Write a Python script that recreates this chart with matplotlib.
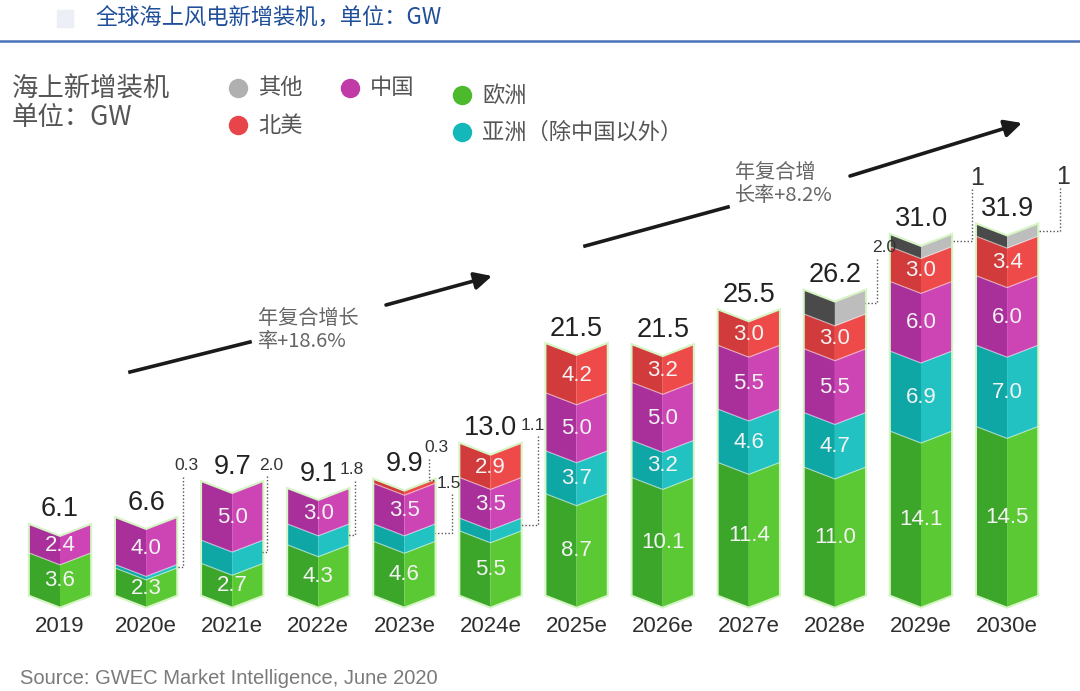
import matplotlib
matplotlib.use('Agg')
import matplotlib.pyplot as plt
import numpy as np

# data (GW)
years = ['2019', '2020e', '2021e', '2022e', '2023e', '2024e',
         '2025e', '2026e', '2027e', '2028e', '2029e', '2030e']
europe = [3.6, 2.3, 2.7, 4.3, 4.6, 5.5, 8.7, 10.1, 11.4, 11.0, 14.1, 14.5]
asia = [0.0, 0.3, 2.0, 1.8, 1.5, 1.1, 3.7, 3.2, 4.6, 4.7, 6.9, 7.0]
china = [2.4, 4.0, 5.0, 3.0, 3.5, 3.5, 5.0, 5.0, 5.5, 5.5, 6.0, 6.0]
america = [0.0, 0.0, 0.0, 0.0, 0.3, 2.9, 4.2, 3.2, 3.0, 3.0, 3.0, 3.4]
other = [0.0, 0.0, 0.0, 0.0, 0.0, 0.0, 0.0, 0.0, 0.0, 2.0, 1.0, 1.0]
totals = [6.1, 6.6, 9.7, 9.1, 9.9, 13.0, 21.5, 21.5, 25.5, 26.2, 31.0, 31.9]

series_names = ['欧洲', '亚洲（除中国以外）', '中国', '北美', '其他']
series = [europe, asia, china, america, other]

# outside labels: (bar, series index, text)
notes = [(1, 1, '0.3'), (2, 1, '2.0'), (3, 1, '1.8'), (4, 3, '0.3'),
         (4, 1, '1.5'), (5, 1, '1.1'), (9, 4, '2.0'), (10, 4, '1'), (11, 4, '1')]

# styles
left_cols = ['#3ca62b', '#0fa6a6', '#a9309b', '#d23b3b', '#4a4a4a']
right_cols = ['#5ac934', '#22c2c2', '#cd45b5', '#ee4a4a', '#bdbdbd']
legend_cols = ['#4cba2c', '#14b8b8', '#c03aa8', '#e8454a', '#b0b0b0']
CJK = ['Noto Sans CJK SC', 'DejaVu Sans']
NUM = 'Liberation Sans'

W, H = 1080, 691
PX = 11.6          # pixels per GW
BASE = 595         # pixel row of the baseline
X0, STEP = 60, 86.1


def px(xp, yp):
    return (xp - X0) / STEP, (BASE - yp) / PX


def fx(xp):
    return xp / W


def fy(yp):
    return 1 - yp / H


fig = plt.figure(figsize=(W / 100, H / 100), dpi=100)
ax = fig.add_axes([0, 0, 1, 1])
ax.set_xlim(-X0 / STEP, (W - X0) / STEP)
ax.set_ylim(-(H - BASE) / PX, BASE / PX)
ax.axis('off')

w = 0.70
dip = 1.0
xs = np.arange(len(years))

for i, x in enumerate(xs):
    xl, xr = x - w / 2, x + w / 2
    bottom = 0.0
    stack_top = sum(s[i] for s in series)
    # soft glow
    ax.fill([xl, x, xr, xr, x, xl], [0, -dip, 0, stack_top, stack_top - dip, stack_top],
            facecolor='none', edgecolor='#8be35a', lw=3, alpha=0.35, zorder=1)
    for k, s in enumerate(series):
        v = s[i]
        if v <= 0:
            continue
        y0, y1 = bottom, bottom + v
        ax.fill([xl, x, x, xl], [y0, y0 - dip, y1 - dip, y1],
                color=left_cols[k], lw=0, zorder=2)
        ax.fill([x, xr, xr, x], [y0 - dip, y0, y1, y1 - dip],
                color=right_cols[k], lw=0, zorder=2)
        if y0 > 0:
            ax.plot([xl, x, xr], [y0, y0 - dip, y0], color='white', lw=0.9,
                    alpha=0.45, zorder=3)
        if v >= 2.2 and k < 4:
            ax.text(x, (y0 + y1) / 2 - dip * 0.55, f'{v:.1f}', ha='center', va='center',
                    color='#f3f3f3', fontsize=16, family=NUM, zorder=4)
        bottom = y1
    ax.text(x, stack_top + 0.25, f'{totals[i]:.1f}', ha='center', va='bottom',
            color='#222222', fontsize=19.5, family=NUM, zorder=4)
    ax.text(x, px(0, 627)[1], years[i], ha='center', va='center',
            color='#2e2e2e', fontsize=16, family=NUM, zorder=4)

# outside notes with dotted leaders
note_text_px = [(186, 466), (271, 465), (352, 470), (436, 448), (449, 483),
                (533, 425), (884, 248), (977, 178), (1063, 177)]
note_line_px = [183, 267, 355, 429, 452, 538, 877, 972, 1060]
for (i, k, lab), (tx, ty), lx in zip(notes, note_text_px, note_line_px):
    lo = sum(series[j][i] for j in range(k))
    attach = lo + series[k][i] / 2
    if k == 3 and i == 4:
        attach = lo + series[k][i]
    xt, yt = px(tx, ty)
    xline = px(lx, 0)[0]
    ytop = px(0, ty + 11)[1]
    ax.plot([xline, xline, i + w / 2], [ytop, attach, attach], ls=(0, (1, 1.5)),
            color='#555555', lw=1, zorder=3)
    fs = 18 if lab == '1' else 12.5
    ax.text(xt, yt, lab, ha='center', va='center', color='#333333',
            fontsize=fs, family=NUM, zorder=4)

# growth arrows
a = dict(arrowstyle='-|>', color='#1a1a1a', lw=2.6, mutation_scale=26, shrinkA=0, shrinkB=0)
ax.plot(*zip(px(130, 372), px(250, 342)), color='#1a1a1a', lw=2.6)
ax.annotate('', xy=px(492, 276), xytext=px(386, 305), arrowprops=a)
ax.text(*px(258, 330), '年复合增长\n率+18.6%', ha='left', va='center', color='#666666',
        fontsize=14.5, family=CJK, linespacing=1.1)
ax.plot(*zip(px(585, 246), px(728, 207)), color='#1a1a1a', lw=2.6)
ax.annotate('', xy=px(1022, 123), xytext=px(850, 176), arrowprops=a)
ax.text(*px(735, 184), '年复合增\n长率+8.2%', ha='left', va='center', color='#666666',
        fontsize=14.5, family=CJK, linespacing=1.1)

# header
fig.patches.append(plt.Rectangle((fx(57), fy(27)), 16 / W, 17 / H, transform=fig.transFigure,
                                 color='#eceff5', zorder=0))
fig.text(fx(95), fy(18), '全球海上风电新增装机，单位：GW', ha='left', va='center',
         color='#1f4e9a', fontsize=16, family=CJK)
fig.add_artist(plt.Line2D([0, 1], [fy(41), fy(41)], color='#4a72b8', lw=1.8))

fig.text(fx(12), fy(103), '海上新增装机\n单位：GW', ha='left', va='center',
         color='#555555', fontsize=19, family=CJK, linespacing=1.05)

# legend
leg_pos = [(462, 95), (462, 132), (350, 88), (238, 125), (238, 88)]
for k in range(5):
    cx, cy = leg_pos[k]
    fig.add_artist(plt.Line2D([fx(cx)], [fy(cy)], marker='o', ms=14, color=legend_cols[k],
                              mec='none'))
    fig.text(fx(cx + 20), fy(cy), series_names[k], ha='left', va='center',
             color='#555555', fontsize=16, family=CJK)

fig.text(fx(20), fy(678), 'Source: GWEC Market Intelligence, June 2020', ha='left',
         va='center', color='#7a7a7a', fontsize=14.5, family=NUM)

fig.savefig('out.png', dpi=100)
